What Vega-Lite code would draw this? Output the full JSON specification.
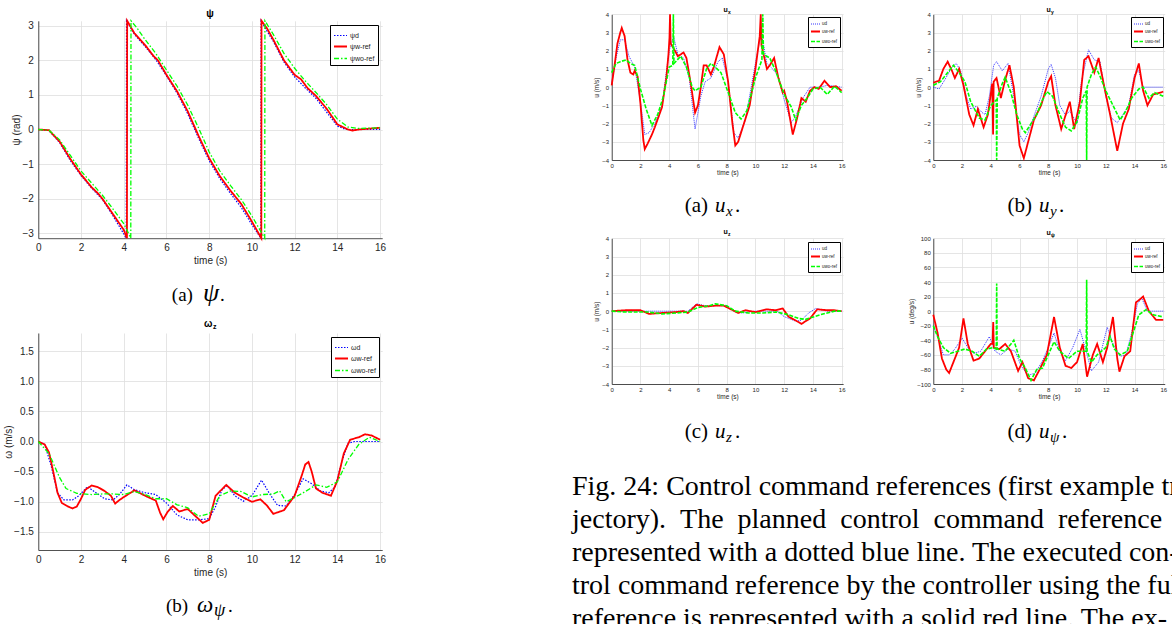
{
"$schema":"https://vega.github.io/schema/vega-lite/v6.json",
"width":1172,"height":624,"autosize":{"type":"none"},"padding":0,"background":"white",
"config":{"view":{"stroke":null},
 "axis":{"domainColor":"#262626","domainWidth":0.8,"labelColor":"#262626","titleColor":"#262626","gridColor":"#dedede","gridWidth":0.8,"labelFont":"Liberation Sans","titleFont":"Liberation Sans","titleFontWeight":"normal","ticks":false,"labelFlush":false,"labelOverlap":false}},
"resolve":{"scale":{"x":"independent","y":"independent","color":"independent","strokeDash":"independent","strokeWidth":"independent"}},
"layer":[
{"layer":[
 {"data":{"values":[
{"s":"ψd","t":0,"v":0},{"s":"ψd","t":0.5,"v":-0.03},{"s":"ψd","t":1,"v":-0.38},{"s":"ψd","t":1.5,"v":-0.9},{"s":"ψd","t":2,"v":-1.33},{"s":"ψd","t":2.5,"v":-1.7},{"s":"ψd","t":3,"v":-2.02},{"s":"ψd","t":3.5,"v":-2.5},{"s":"ψd","t":4.12,"v":-3.1416},{"s":"ψd","t":4.13,"v":3.1416},{"s":"ψd","t":4.5,"v":2.75},{"s":"ψd","t":5,"v":2.4},{"s":"ψd","t":5.5,"v":2.02},{"s":"ψd","t":6,"v":1.55},{"s":"ψd","t":6.5,"v":1.05},{"s":"ψd","t":7,"v":0.45},{"s":"ψd","t":7.5,"v":-0.25},{"s":"ψd","t":8,"v":-0.9},{"s":"ψd","t":8.5,"v":-1.42},{"s":"ψd","t":9,"v":-1.85},{"s":"ψd","t":9.5,"v":-2.25},{"s":"ψd","t":10,"v":-2.75},{"s":"ψd","t":10.42,"v":-3.1416},{"s":"ψd","t":10.43,"v":3.1416},{"s":"ψd","t":10.7,"v":2.85},{"s":"ψd","t":11,"v":2.55},{"s":"ψd","t":11.5,"v":1.95},{"s":"ψd","t":12,"v":1.52},{"s":"ψd","t":12.5,"v":1.2},{"s":"ψd","t":13,"v":0.9},{"s":"ψd","t":13.5,"v":0.5},{"s":"ψd","t":14,"v":0.1},{"s":"ψd","t":14.4,"v":0},{"s":"ψd","t":15,"v":0},{"s":"ψd","t":16,"v":0},
{"s":"ψw-ref","t":0,"v":0},{"s":"ψw-ref","t":0.5,"v":-0.02},{"s":"ψw-ref","t":1,"v":-0.35},{"s":"ψw-ref","t":1.5,"v":-0.85},{"s":"ψw-ref","t":2,"v":-1.3},{"s":"ψw-ref","t":2.5,"v":-1.67},{"s":"ψw-ref","t":2.8,"v":-1.85},{"s":"ψw-ref","t":3,"v":-2.0},{"s":"ψw-ref","t":3.5,"v":-2.45},{"s":"ψw-ref","t":4,"v":-2.9},{"s":"ψw-ref","t":4.15,"v":-3.1416},{"s":"ψw-ref","t":4.16,"v":3.1416},{"s":"ψw-ref","t":4.5,"v":2.78},{"s":"ψw-ref","t":5,"v":2.44},{"s":"ψw-ref","t":5.4,"v":2.12},{"s":"ψw-ref","t":5.6,"v":2.0},{"s":"ψw-ref","t":6,"v":1.58},{"s":"ψw-ref","t":6.5,"v":1.1},{"s":"ψw-ref","t":7,"v":0.52},{"s":"ψw-ref","t":7.5,"v":-0.18},{"s":"ψw-ref","t":8,"v":-0.83},{"s":"ψw-ref","t":8.5,"v":-1.35},{"s":"ψw-ref","t":9,"v":-1.77},{"s":"ψw-ref","t":9.5,"v":-2.15},{"s":"ψw-ref","t":10,"v":-2.66},{"s":"ψw-ref","t":10.44,"v":-3.1416},{"s":"ψw-ref","t":10.45,"v":3.1416},{"s":"ψw-ref","t":10.7,"v":2.93},{"s":"ψw-ref","t":11,"v":2.6},{"s":"ψw-ref","t":11.5,"v":2.0},{"s":"ψw-ref","t":12,"v":1.58},{"s":"ψw-ref","t":12.3,"v":1.45},{"s":"ψw-ref","t":12.6,"v":1.2},{"s":"ψw-ref","t":13,"v":0.97},{"s":"ψw-ref","t":13.5,"v":0.6},{"s":"ψw-ref","t":14,"v":0.15},{"s":"ψw-ref","t":14.5,"v":0},{"s":"ψw-ref","t":14.7,"v":-0.03},{"s":"ψw-ref","t":15,"v":0},{"s":"ψw-ref","t":16,"v":0.05},
{"s":"ψwo-ref","t":0,"v":0},{"s":"ψwo-ref","t":0.5,"v":-0.02},{"s":"ψwo-ref","t":1,"v":-0.3},{"s":"ψwo-ref","t":1.5,"v":-0.75},{"s":"ψwo-ref","t":2,"v":-1.2},{"s":"ψwo-ref","t":2.5,"v":-1.55},{"s":"ψwo-ref","t":3,"v":-1.9},{"s":"ψwo-ref","t":3.5,"v":-2.3},{"s":"ψwo-ref","t":4,"v":-2.72},{"s":"ψwo-ref","t":4.33,"v":-3.1416},{"s":"ψwo-ref","t":4.34,"v":3.1416},{"s":"ψwo-ref","t":4.6,"v":2.95},{"s":"ψwo-ref","t":5,"v":2.6},{"s":"ψwo-ref","t":5.5,"v":2.2},{"s":"ψwo-ref","t":6,"v":1.72},{"s":"ψwo-ref","t":6.5,"v":1.25},{"s":"ψwo-ref","t":7,"v":0.7},{"s":"ψwo-ref","t":7.5,"v":0.05},{"s":"ψwo-ref","t":8,"v":-0.65},{"s":"ψwo-ref","t":8.5,"v":-1.2},{"s":"ψwo-ref","t":9,"v":-1.62},{"s":"ψwo-ref","t":9.5,"v":-2.02},{"s":"ψwo-ref","t":10,"v":-2.5},{"s":"ψwo-ref","t":10.6,"v":-3.1416},{"s":"ψwo-ref","t":10.61,"v":3.1416},{"s":"ψwo-ref","t":11,"v":2.75},{"s":"ψwo-ref","t":11.5,"v":2.2},{"s":"ψwo-ref","t":12,"v":1.77},{"s":"ψwo-ref","t":12.5,"v":1.4},{"s":"ψwo-ref","t":13,"v":1.07},{"s":"ψwo-ref","t":13.5,"v":0.72},{"s":"ψwo-ref","t":14,"v":0.3},{"s":"ψwo-ref","t":14.5,"v":0.07},{"s":"ψwo-ref","t":15,"v":0.03},{"s":"ψwo-ref","t":16,"v":0.05}
 ]},
 "mark":{"type":"line"},
 "encoding":{
  "x":{"field":"t","type":"quantitative","scale":{"domain":[0,16.1],"range":[38.3,382.2],"nice":false,"zero":false},"axis":{"orient":"bottom","offset":-385.8,"values":[0,2,4,6,8,10,12,14,16],"grid":false,"title":"time (s)","labelFontSize":10,"titleFontSize":10,"labelPadding":4,"titlePadding":3}},
  "y":{"field":"v","type":"quantitative","scale":{"domain":[-3.1416,3.1416],"range":[238.2,20.8],"nice":false,"zero":false},"axis":{"orient":"left","offset":-38.3,"values":[-3,-2,-1,0,1,2,3],"grid":true,"title":"ψ (rad)","labelFontSize":10,"titleFontSize":10,"labelPadding":5,"titlePadding":0}},
  "color":{"field":"s","type":"nominal","scale":{"domain":["ψd","ψw-ref","ψwo-ref"],"range":["#0000ff","#ff0000","#00ff00"]},"legend":{"orient":"none","legendX":330,"legendY":25,"direction":"vertical","title":null,"symbolType":"stroke","symbolSize":169,"symbolStrokeWidth":1.3,"labelFontSize":7,"labelOffset":2,"padding":3,"rowPadding":0,"strokeColor":"#000000","fillColor":"#ffffff","labelColor":"#222222"}},
  "strokeDash":{"field":"s","type":"nominal","scale":{"domain":["ψd","ψw-ref","ψwo-ref"],"range":[[1.5,1.5],[1,0],[5,2,1.5,2]]},"legend":{"orient":"none","legendX":330,"legendY":25,"direction":"vertical","title":null,"symbolType":"stroke","symbolSize":169,"symbolStrokeWidth":1.3,"labelFontSize":7,"labelOffset":2,"padding":3,"rowPadding":0,"strokeColor":"#000000","fillColor":"#ffffff","labelColor":"#222222"}},
  "strokeWidth":{"field":"s","type":"nominal","scale":{"type":"ordinal","domain":["ψd","ψw-ref","ψwo-ref"],"range":[1.2,1.8,1.3]},"legend":null}
 }},
 {"data":{"values":[{}]},"mark":{"type":"text","text":"ψ","font":"Liberation Sans","fontSize":10,"fontWeight":"bold","align":"center","baseline":"middle","color":"#000000"},
  "encoding":{"x":{"datum":8.04,"type":"quantitative","axis":{"orient":"top","offset":-20.8,"grid":true,"labels":false,"ticks":false,"domain":false,"title":null,"values":[0,2,4,6,8,10,12,14,16]}},"y":{"datum":3.34,"type":"quantitative","axis":null}}},
 {"data":{"values":[{}]},"mark":{"type":"text","text":"(a)","font":"Liberation Serif","fontSize":19,"align":"right","baseline":"alphabetic","color":"#000000"},
  "encoding":{"x":{"datum":7.24,"type":"quantitative","axis":null},"y":{"datum":-4.957,"type":"quantitative","axis":null}}},
 {"data":{"values":[{}]},"mark":{"type":"text","text":"ψ","font":"Liberation Serif","fontSize":26,"fontStyle":"italic","align":"left","baseline":"alphabetic","dx":10,"color":"#000000"},
  "encoding":{"x":{"datum":7.24,"type":"quantitative","axis":null},"y":{"datum":-4.957,"type":"quantitative","axis":null}}},
 {"data":{"values":[{}]},"mark":{"type":"text","text":".","font":"Liberation Serif","fontSize":19,"align":"left","baseline":"alphabetic","dx":27,"color":"#000000"},
  "encoding":{"x":{"datum":7.24,"type":"quantitative","axis":null},"y":{"datum":-4.957,"type":"quantitative","axis":null}}}
],
"resolve":{"axis":{"x":"independent","y":"independent"}}},

{"layer":[
 {"data":{"values":[
{"s":"ωd","t":0,"v":0},{"s":"ωd","t":0.3,"v":-0.05},{"s":"ωd","t":0.6,"v":-0.4},{"s":"ωd","t":0.9,"v":-0.85},{"s":"ωd","t":1.2,"v":-0.97},{"s":"ωd","t":1.6,"v":-0.97},{"s":"ωd","t":1.9,"v":-0.9},{"s":"ωd","t":2.3,"v":-0.75},{"s":"ωd","t":2.7,"v":-0.85},{"s":"ωd","t":3.1,"v":-0.95},{"s":"ωd","t":3.5,"v":-0.97},{"s":"ωd","t":3.8,"v":-0.88},{"s":"ωd","t":4.15,"v":-0.72},{"s":"ωd","t":4.5,"v":-0.8},{"s":"ωd","t":5,"v":-0.85},{"s":"ωd","t":5.5,"v":-0.88},{"s":"ωd","t":6,"v":-1.02},{"s":"ωd","t":6.5,"v":-1.22},{"s":"ωd","t":7,"v":-1.3},{"s":"ωd","t":7.5,"v":-1.3},{"s":"ωd","t":8,"v":-1.28},{"s":"ωd","t":8.3,"v":-1.08},{"s":"ωd","t":8.6,"v":-0.8},{"s":"ωd","t":8.85,"v":-0.73},{"s":"ωd","t":9.2,"v":-0.9},{"s":"ωd","t":9.6,"v":-0.99},{"s":"ωd","t":10,"v":-0.9},{"s":"ωd","t":10.45,"v":-0.64},{"s":"ωd","t":10.8,"v":-0.85},{"s":"ωd","t":11.2,"v":-1.06},{"s":"ωd","t":11.6,"v":-1.07},{"s":"ωd","t":12,"v":-0.88},{"s":"ωd","t":12.4,"v":-0.62},{"s":"ωd","t":12.8,"v":-0.7},{"s":"ωd","t":13.2,"v":-0.82},{"s":"ωd","t":13.6,"v":-0.85},{"s":"ωd","t":13.9,"v":-0.75},{"s":"ωd","t":14.2,"v":-0.35},{"s":"ωd","t":14.5,"v":-0.03},{"s":"ωd","t":14.8,"v":0},{"s":"ωd","t":16,"v":0},
{"s":"ωw-ref","t":0,"v":0},{"s":"ωw-ref","t":0.3,"v":-0.05},{"s":"ωw-ref","t":0.5,"v":-0.18},{"s":"ωw-ref","t":0.7,"v":-0.5},{"s":"ωw-ref","t":0.9,"v":-0.85},{"s":"ωw-ref","t":1.1,"v":-1.02},{"s":"ωw-ref","t":1.4,"v":-1.08},{"s":"ωw-ref","t":1.6,"v":-1.11},{"s":"ωw-ref","t":1.8,"v":-1.08},{"s":"ωw-ref","t":2.0,"v":-0.95},{"s":"ωw-ref","t":2.2,"v":-0.8},{"s":"ωw-ref","t":2.5,"v":-0.73},{"s":"ωw-ref","t":2.8,"v":-0.76},{"s":"ωw-ref","t":3.1,"v":-0.82},{"s":"ωw-ref","t":3.4,"v":-0.9},{"s":"ωw-ref","t":3.6,"v":-1.03},{"s":"ωw-ref","t":3.8,"v":-0.97},{"s":"ωw-ref","t":4.1,"v":-0.9},{"s":"ωw-ref","t":4.5,"v":-0.81},{"s":"ωw-ref","t":5.0,"v":-0.9},{"s":"ωw-ref","t":5.5,"v":-0.98},{"s":"ωw-ref","t":5.7,"v":-1.18},{"s":"ωw-ref","t":5.85,"v":-1.29},{"s":"ωw-ref","t":6.05,"v":-1.17},{"s":"ωw-ref","t":6.3,"v":-1.07},{"s":"ωw-ref","t":6.6,"v":-1.16},{"s":"ωw-ref","t":7.0,"v":-1.12},{"s":"ωw-ref","t":7.3,"v":-1.22},{"s":"ωw-ref","t":7.7,"v":-1.35},{"s":"ωw-ref","t":8.0,"v":-1.3},{"s":"ωw-ref","t":8.3,"v":-0.9},{"s":"ωw-ref","t":8.8,"v":-0.72},{"s":"ωw-ref","t":9.2,"v":-0.85},{"s":"ωw-ref","t":9.6,"v":-0.93},{"s":"ωw-ref","t":10.0,"v":-1.0},{"s":"ωw-ref","t":10.4,"v":-0.96},{"s":"ωw-ref","t":10.7,"v":-1.06},{"s":"ωw-ref","t":11.0,"v":-1.2},{"s":"ωw-ref","t":11.5,"v":-1.14},{"s":"ωw-ref","t":12.0,"v":-0.9},{"s":"ωw-ref","t":12.3,"v":-0.6},{"s":"ωw-ref","t":12.5,"v":-0.38},{"s":"ωw-ref","t":12.65,"v":-0.34},{"s":"ωw-ref","t":12.8,"v":-0.5},{"s":"ωw-ref","t":13.0,"v":-0.78},{"s":"ωw-ref","t":13.3,"v":-0.85},{"s":"ωw-ref","t":13.7,"v":-0.9},{"s":"ωw-ref","t":14.0,"v":-0.65},{"s":"ωw-ref","t":14.3,"v":-0.2},{"s":"ωw-ref","t":14.6,"v":0.03},{"s":"ωw-ref","t":15.0,"v":0.07},{"s":"ωw-ref","t":15.3,"v":0.12},{"s":"ωw-ref","t":15.6,"v":0.1},{"s":"ωw-ref","t":16,"v":0.03},
{"s":"ωwo-ref","t":0,"v":0},{"s":"ωwo-ref","t":0.5,"v":-0.2},{"s":"ωwo-ref","t":1,"v":-0.6},{"s":"ωwo-ref","t":1.3,"v":-0.78},{"s":"ωwo-ref","t":1.8,"v":-0.86},{"s":"ωwo-ref","t":2.5,"v":-0.88},{"s":"ωwo-ref","t":3,"v":-0.87},{"s":"ωwo-ref","t":3.5,"v":-0.87},{"s":"ωwo-ref","t":4,"v":-0.88},{"s":"ωwo-ref","t":4.5,"v":-0.83},{"s":"ωwo-ref","t":5,"v":-0.88},{"s":"ωwo-ref","t":5.5,"v":-0.95},{"s":"ωwo-ref","t":6,"v":-0.95},{"s":"ωwo-ref","t":6.5,"v":-1.05},{"s":"ωwo-ref","t":7,"v":-1.1},{"s":"ωwo-ref","t":7.5,"v":-1.24},{"s":"ωwo-ref","t":8,"v":-1.2},{"s":"ωwo-ref","t":8.5,"v":-0.9},{"s":"ωwo-ref","t":9,"v":-0.82},{"s":"ωwo-ref","t":9.5,"v":-0.83},{"s":"ωwo-ref","t":10,"v":-0.92},{"s":"ωwo-ref","t":10.5,"v":-0.88},{"s":"ωwo-ref","t":11,"v":-0.87},{"s":"ωwo-ref","t":11.3,"v":-0.82},{"s":"ωwo-ref","t":11.6,"v":-1.0},{"s":"ωwo-ref","t":12,"v":-0.93},{"s":"ωwo-ref","t":12.5,"v":-0.83},{"s":"ωwo-ref","t":13,"v":-0.72},{"s":"ωwo-ref","t":13.5,"v":-0.76},{"s":"ωwo-ref","t":14,"v":-0.67},{"s":"ωwo-ref","t":14.5,"v":-0.3},{"s":"ωwo-ref","t":15,"v":-0.05},{"s":"ωwo-ref","t":15.5,"v":0.07},{"s":"ωwo-ref","t":16,"v":0}
 ]},
 "mark":{"type":"line"},
 "encoding":{
  "x":{"field":"t","type":"quantitative","scale":{"domain":[0,16.1],"range":[38.3,382.2],"nice":false,"zero":false},"axis":{"orient":"bottom","offset":-74,"values":[0,2,4,6,8,10,12,14,16],"grid":false,"title":"time (s)","labelFontSize":10,"titleFontSize":10,"labelPadding":4,"titlePadding":3}},
  "y":{"field":"v","type":"quantitative","scale":{"domain":[-1.8,1.8],"range":[550,333],"nice":false,"zero":false},"axis":{"orient":"left","offset":-38.3,"values":[-1.5,-1,-0.5,0,0.5,1,1.5],"grid":true,"title":"ω (m/s)","labelFontSize":10,"titleFontSize":10,"labelPadding":5,"titlePadding":0}},
  "color":{"field":"s","type":"nominal","scale":{"domain":["ωd","ωw-ref","ωwo-ref"],"range":["#0000ff","#ff0000","#00ff00"]},"legend":{"orient":"none","legendX":331,"legendY":337,"direction":"vertical","title":null,"symbolType":"stroke","symbolSize":169,"symbolStrokeWidth":1.3,"labelFontSize":7,"labelOffset":2,"padding":3,"rowPadding":0,"strokeColor":"#000000","fillColor":"#ffffff","labelColor":"#222222"}},
  "strokeDash":{"field":"s","type":"nominal","scale":{"domain":["ωd","ωw-ref","ωwo-ref"],"range":[[1.5,1.5],[1,0],[5,2,1.5,2]]},"legend":{"orient":"none","legendX":331,"legendY":337,"direction":"vertical","title":null,"symbolType":"stroke","symbolSize":169,"symbolStrokeWidth":1.3,"labelFontSize":7,"labelOffset":2,"padding":3,"rowPadding":0,"strokeColor":"#000000","fillColor":"#ffffff","labelColor":"#222222"}},
  "strokeWidth":{"field":"s","type":"nominal","scale":{"type":"ordinal","domain":["ωd","ωw-ref","ωwo-ref"],"range":[1.2,1.8,1.3]},"legend":null}
 }},
 {"data":{"values":[{}]},"mark":{"type":"text","text":"ω","font":"Liberation Sans","fontSize":10,"fontWeight":"bold","align":"right","baseline":"middle","color":"#000000"},
  "encoding":{"x":{"datum":8.155,"type":"quantitative","axis":{"orient":"top","offset":-333,"grid":true,"labels":false,"ticks":false,"domain":false,"title":null,"values":[0,2,4,6,8,10,12,14,16]}},"y":{"datum":1.949,"type":"quantitative","axis":null}}},
 {"data":{"values":[{}]},"mark":{"type":"text","text":"z","font":"Liberation Sans","fontSize":7,"fontWeight":"bold","align":"left","baseline":"middle","dx":0.5,"dy":3,"color":"#000000"},
  "encoding":{"x":{"datum":8.155,"type":"quantitative","axis":null},"y":{"datum":1.949,"type":"quantitative","axis":null}}},
 {"data":{"values":[{}]},"mark":{"type":"text","text":"(b)","font":"Liberation Serif","fontSize":19,"align":"right","baseline":"alphabetic","color":"#000000"},
  "encoding":{"x":{"datum":7.01,"type":"quantitative","axis":null},"y":{"datum":-2.829,"type":"quantitative","axis":null}}},
 {"data":{"values":[{}]},"mark":{"type":"text","text":"ω","font":"Liberation Serif","fontSize":23,"fontStyle":"italic","align":"left","baseline":"alphabetic","dx":9,"color":"#000000"},
  "encoding":{"x":{"datum":7.01,"type":"quantitative","axis":null},"y":{"datum":-2.829,"type":"quantitative","axis":null}}},
 {"data":{"values":[{}]},"mark":{"type":"text","text":"ψ","font":"Liberation Serif","fontSize":18,"fontStyle":"italic","align":"left","baseline":"alphabetic","dx":26,"dy":4,"color":"#000000"},
  "encoding":{"x":{"datum":7.01,"type":"quantitative","axis":null},"y":{"datum":-2.829,"type":"quantitative","axis":null}}},
 {"data":{"values":[{}]},"mark":{"type":"text","text":".","font":"Liberation Serif","fontSize":19,"align":"left","baseline":"alphabetic","dx":40,"color":"#000000"},
  "encoding":{"x":{"datum":7.01,"type":"quantitative","axis":null},"y":{"datum":-2.829,"type":"quantitative","axis":null}}}
],
"resolve":{"axis":{"x":"independent","y":"independent"}}},

{"layer":[
 {"data":{"values":[
{"s":"ud","t":0,"v":0.2},{"s":"ud","t":0.3,"v":1.6},{"s":"ud","t":0.6,"v":2.6},{"s":"ud","t":0.9,"v":2.6},{"s":"ud","t":1.2,"v":1.7},{"s":"ud","t":1.6,"v":1.1},{"s":"ud","t":2,"v":-0.8},{"s":"ud","t":2.3,"v":-2.6},{"s":"ud","t":2.6,"v":-2.5},{"s":"ud","t":3,"v":-2.0},{"s":"ud","t":3.5,"v":-1.0},{"s":"ud","t":4,"v":2.0},{"s":"ud","t":4.3,"v":2.8},{"s":"ud","t":4.6,"v":1.8},{"s":"ud","t":5,"v":1.6},{"s":"ud","t":5.4,"v":0.5},{"s":"ud","t":5.8,"v":-2.3},{"s":"ud","t":6.2,"v":-0.5},{"s":"ud","t":6.5,"v":0.3},{"s":"ud","t":6.9,"v":0.5},{"s":"ud","t":7.4,"v":1.4},{"s":"ud","t":7.7,"v":1.6},{"s":"ud","t":8.1,"v":0.3},{"s":"ud","t":8.5,"v":-2.5},{"s":"ud","t":8.8,"v":-2.8},{"s":"ud","t":9.3,"v":-1.8},{"s":"ud","t":10,"v":1.3},{"s":"ud","t":10.4,"v":3.0},{"s":"ud","t":10.8,"v":1.3},{"s":"ud","t":11.2,"v":1.0},{"s":"ud","t":11.6,"v":0.6},{"s":"ud","t":12,"v":-0.7},{"s":"ud","t":12.5,"v":-1.95},{"s":"ud","t":12.8,"v":-1.6},{"s":"ud","t":13.3,"v":-0.6},{"s":"ud","t":13.8,"v":0},{"s":"ud","t":14.5,"v":0},{"s":"ud","t":15,"v":0.1},{"s":"ud","t":16,"v":0},
{"s":"uw-ref","t":0,"v":0.1},{"s":"uw-ref","t":0.2,"v":1.2},{"s":"uw-ref","t":0.4,"v":2.4},{"s":"uw-ref","t":0.6,"v":3.0},{"s":"uw-ref","t":0.7,"v":3.25},{"s":"uw-ref","t":0.9,"v":2.8},{"s":"uw-ref","t":1.1,"v":1.5},{"s":"uw-ref","t":1.3,"v":0.8},{"s":"uw-ref","t":1.5,"v":0.7},{"s":"uw-ref","t":1.6,"v":0.9},{"s":"uw-ref","t":1.8,"v":0.6},{"s":"uw-ref","t":2.0,"v":-0.9},{"s":"uw-ref","t":2.2,"v":-2.9},{"s":"uw-ref","t":2.3,"v":-3.4},{"s":"uw-ref","t":2.5,"v":-3.1},{"s":"uw-ref","t":2.8,"v":-2.6},{"s":"uw-ref","t":3,"v":-2.2},{"s":"uw-ref","t":3.5,"v":-1.1},{"s":"uw-ref","t":3.8,"v":0.5},{"s":"uw-ref","t":3.95,"v":1.8},{"s":"uw-ref","t":4.02,"v":2.7},{"s":"uw-ref","t":4.06,"v":4.0},{"s":"uw-ref","t":4.1,"v":2.4},{"s":"uw-ref","t":4.4,"v":2.0},{"s":"uw-ref","t":4.6,"v":1.7},{"s":"uw-ref","t":5.0,"v":1.9},{"s":"uw-ref","t":5.2,"v":1.6},{"s":"uw-ref","t":5.5,"v":0.2},{"s":"uw-ref","t":5.8,"v":-1.4},{"s":"uw-ref","t":6.0,"v":-1.0},{"s":"uw-ref","t":6.2,"v":0},{"s":"uw-ref","t":6.4,"v":1.2},{"s":"uw-ref","t":6.6,"v":1.2},{"s":"uw-ref","t":6.9,"v":0.7},{"s":"uw-ref","t":7.1,"v":1.1},{"s":"uw-ref","t":7.5,"v":2.2},{"s":"uw-ref","t":7.8,"v":1.8},{"s":"uw-ref","t":8.1,"v":0.3},{"s":"uw-ref","t":8.4,"v":-2.0},{"s":"uw-ref","t":8.6,"v":-3.2},{"s":"uw-ref","t":8.8,"v":-3.0},{"s":"uw-ref","t":9.2,"v":-2.0},{"s":"uw-ref","t":9.6,"v":-1.0},{"s":"uw-ref","t":10,"v":1.0},{"s":"uw-ref","t":10.3,"v":2.8},{"s":"uw-ref","t":10.37,"v":4.0},{"s":"uw-ref","t":10.42,"v":2.3},{"s":"uw-ref","t":10.8,"v":1.0},{"s":"uw-ref","t":11,"v":1.2},{"s":"uw-ref","t":11.3,"v":1.6},{"s":"uw-ref","t":11.6,"v":0.5},{"s":"uw-ref","t":11.9,"v":-0.3},{"s":"uw-ref","t":12.0,"v":-0.2},{"s":"uw-ref","t":12.2,"v":-0.8},{"s":"uw-ref","t":12.6,"v":-2.6},{"s":"uw-ref","t":12.9,"v":-1.7},{"s":"uw-ref","t":13.2,"v":-0.6},{"s":"uw-ref","t":13.5,"v":-0.8},{"s":"uw-ref","t":13.8,"v":-0.2},{"s":"uw-ref","t":14.1,"v":0},{"s":"uw-ref","t":14.4,"v":-0.1},{"s":"uw-ref","t":14.8,"v":0.35},{"s":"uw-ref","t":15.2,"v":0},{"s":"uw-ref","t":15.6,"v":0.05},{"s":"uw-ref","t":16,"v":-0.2},
{"s":"uwo-ref","t":0,"v":0.8},{"s":"uwo-ref","t":0.3,"v":1.3},{"s":"uwo-ref","t":0.6,"v":1.4},{"s":"uwo-ref","t":1,"v":1.5},{"s":"uwo-ref","t":1.3,"v":1.3},{"s":"uwo-ref","t":1.6,"v":1.2},{"s":"uwo-ref","t":2,"v":-0.1},{"s":"uwo-ref","t":2.4,"v":-1.2},{"s":"uwo-ref","t":2.8,"v":-2.1},{"s":"uwo-ref","t":3.2,"v":-1.5},{"s":"uwo-ref","t":3.6,"v":-0.5},{"s":"uwo-ref","t":4.0,"v":1.1},{"s":"uwo-ref","t":4.25,"v":1.2},{"s":"uwo-ref","t":4.29,"v":4.0},{"s":"uwo-ref","t":4.33,"v":1.3},{"s":"uwo-ref","t":4.8,"v":1.7},{"s":"uwo-ref","t":5.2,"v":1.1},{"s":"uwo-ref","t":5.6,"v":0},{"s":"uwo-ref","t":5.8,"v":-0.2},{"s":"uwo-ref","t":6.2,"v":0},{"s":"uwo-ref","t":6.6,"v":1.0},{"s":"uwo-ref","t":6.9,"v":1.3},{"s":"uwo-ref","t":7.2,"v":1.1},{"s":"uwo-ref","t":7.6,"v":0.8},{"s":"uwo-ref","t":8.2,"v":-0.5},{"s":"uwo-ref","t":8.6,"v":-1.4},{"s":"uwo-ref","t":9,"v":-1.75},{"s":"uwo-ref","t":9.4,"v":-1.3},{"s":"uwo-ref","t":10,"v":0.5},{"s":"uwo-ref","t":10.45,"v":1.5},{"s":"uwo-ref","t":10.51,"v":4.0},{"s":"uwo-ref","t":10.56,"v":1.8},{"s":"uwo-ref","t":11,"v":1.6},{"s":"uwo-ref","t":11.4,"v":0.9},{"s":"uwo-ref","t":12,"v":-0.4},{"s":"uwo-ref","t":12.5,"v":-1.1},{"s":"uwo-ref","t":12.8,"v":-1.8},{"s":"uwo-ref","t":13.2,"v":-1.0},{"s":"uwo-ref","t":13.6,"v":-0.6},{"s":"uwo-ref","t":14,"v":-0.1},{"s":"uwo-ref","t":14.5,"v":0},{"s":"uwo-ref","t":15,"v":-0.4},{"s":"uwo-ref","t":15.5,"v":0.05},{"s":"uwo-ref","t":16,"v":-0.3}
 ]},
 "mark":{"type":"line"},
 "encoding":{
  "x":{"field":"t","type":"quantitative","scale":{"domain":[0,16.1],"range":[611.7,843.1],"nice":false,"zero":false},"axis":{"orient":"bottom","offset":-464,"values":[0,2,4,6,8,10,12,14,16],"grid":false,"title":"time (s)","labelFontSize":6,"titleFontSize":6.5,"labelPadding":2,"titlePadding":1}},
  "y":{"field":"v","type":"quantitative","scale":{"domain":[-4,4],"range":[160,14.3],"nice":false,"zero":false},"axis":{"orient":"left","offset":-611.7,"values":[-4,-3,-2,-1,0,1,2,3,4],"grid":true,"title":"u (m/s)","labelFontSize":6,"titleFontSize":6.5,"labelPadding":3,"titlePadding":2}},
  "color":{"field":"s","type":"nominal","scale":{"domain":["ud","uw-ref","uwo-ref"],"range":["#0000ff","#ff0000","#00ff00"]},"legend":{"orient":"none","legendX":808,"legendY":17,"direction":"vertical","title":null,"symbolType":"stroke","symbolSize":81,"symbolStrokeWidth":1,"labelFontSize":4.5,"labelOffset":1,"padding":2,"rowPadding":0,"strokeColor":"#000000","fillColor":"#ffffff","labelColor":"#222222"}},
  "strokeDash":{"field":"s","type":"nominal","scale":{"domain":["ud","uw-ref","uwo-ref"],"range":[[1,1],[1,0],[4,1.5]]},"legend":{"orient":"none","legendX":808,"legendY":17,"direction":"vertical","title":null,"symbolType":"stroke","symbolSize":81,"symbolStrokeWidth":1,"labelFontSize":4.5,"labelOffset":1,"padding":2,"rowPadding":0,"strokeColor":"#000000","fillColor":"#ffffff","labelColor":"#222222"}},
  "strokeWidth":{"field":"s","type":"nominal","scale":{"type":"ordinal","domain":["ud","uw-ref","uwo-ref"],"range":[0.8,1.8,1.6]},"legend":null}
 }},
 {"data":{"values":[{}]},"mark":{"type":"text","text":"u","font":"Liberation Sans","fontSize":7,"fontWeight":"bold","align":"right","baseline":"middle","color":"#000000"},
  "encoding":{"x":{"datum":8.07,"type":"quantitative","axis":{"orient":"top","offset":-14.3,"grid":true,"labels":false,"ticks":false,"domain":false,"title":null,"values":[0,2,4,6,8,10,12,14,16]}},"y":{"datum":4.237,"type":"quantitative","axis":null}}},
 {"data":{"values":[{}]},"mark":{"type":"text","text":"x","font":"Liberation Sans","fontSize":5,"fontWeight":"bold","align":"left","baseline":"middle","dx":0.3,"dy":2,"color":"#000000"},
  "encoding":{"x":{"datum":8.07,"type":"quantitative","axis":null},"y":{"datum":4.237,"type":"quantitative","axis":null}}},
 {"data":{"values":[{}]},"mark":{"type":"text","text":"(a)","font":"Liberation Serif","fontSize":21,"align":"right","baseline":"alphabetic","color":"#000000"},
  "encoding":{"x":{"datum":6.7,"type":"quantitative","axis":null},"y":{"datum":-6.856,"type":"quantitative","axis":null}}},
 {"data":{"values":[{}]},"mark":{"type":"text","text":"u","font":"Liberation Serif","fontSize":21,"fontStyle":"italic","align":"left","baseline":"alphabetic","dx":7,"color":"#000000"},
  "encoding":{"x":{"datum":6.7,"type":"quantitative","axis":null},"y":{"datum":-6.856,"type":"quantitative","axis":null}}},
 {"data":{"values":[{}]},"mark":{"type":"text","text":"x","font":"Liberation Serif","fontSize":15,"fontStyle":"italic","align":"left","baseline":"alphabetic","dx":18,"dy":4,"color":"#000000"},
  "encoding":{"x":{"datum":6.7,"type":"quantitative","axis":null},"y":{"datum":-6.856,"type":"quantitative","axis":null}}},
 {"data":{"values":[{}]},"mark":{"type":"text","text":".","font":"Liberation Serif","fontSize":21,"align":"left","baseline":"alphabetic","dx":27,"color":"#000000"},
  "encoding":{"x":{"datum":6.7,"type":"quantitative","axis":null},"y":{"datum":-6.856,"type":"quantitative","axis":null}}}
],
"resolve":{"axis":{"x":"independent","y":"independent"}}},

{"layer":[
 {"data":{"values":[
{"s":"ud","t":0,"v":0},{"s":"ud","t":0.4,"v":-0.1},{"s":"ud","t":0.8,"v":0.4},{"s":"ud","t":1.3,"v":1.1},{"s":"ud","t":1.6,"v":1.3},{"s":"ud","t":1.9,"v":0.9},{"s":"ud","t":2.3,"v":-0.5},{"s":"ud","t":2.6,"v":-1.2},{"s":"ud","t":3,"v":-1.05},{"s":"ud","t":3.4,"v":-1.4},{"s":"ud","t":3.6,"v":-1.5},{"s":"ud","t":3.9,"v":-0.5},{"s":"ud","t":4.2,"v":1.2},{"s":"ud","t":4.4,"v":1.4},{"s":"ud","t":4.8,"v":0.9},{"s":"ud","t":5.2,"v":1.3},{"s":"ud","t":5.6,"v":-0.5},{"s":"ud","t":6.0,"v":-2.6},{"s":"ud","t":6.3,"v":-3.0},{"s":"ud","t":6.6,"v":-2.5},{"s":"ud","t":7,"v":-1.6},{"s":"ud","t":7.5,"v":-0.5},{"s":"ud","t":8,"v":1.0},{"s":"ud","t":8.2,"v":1.25},{"s":"ud","t":8.5,"v":0.5},{"s":"ud","t":8.8,"v":-1.0},{"s":"ud","t":9.2,"v":-1.55},{"s":"ud","t":9.5,"v":-1.3},{"s":"ud","t":10,"v":-2.0},{"s":"ud","t":10.3,"v":0.3},{"s":"ud","t":10.8,"v":2.05},{"s":"ud","t":11.2,"v":1.5},{"s":"ud","t":11.6,"v":1.4},{"s":"ud","t":12,"v":-0.5},{"s":"ud","t":12.4,"v":-1.7},{"s":"ud","t":12.8,"v":-1.95},{"s":"ud","t":13.2,"v":-1.5},{"s":"ud","t":13.6,"v":-1.0},{"s":"ud","t":14,"v":0.7},{"s":"ud","t":14.3,"v":0.9},{"s":"ud","t":14.6,"v":0},{"s":"ud","t":15,"v":0},{"s":"ud","t":16,"v":0},
{"s":"uw-ref","t":0,"v":0.25},{"s":"uw-ref","t":0.4,"v":0.35},{"s":"uw-ref","t":0.7,"v":1.0},{"s":"uw-ref","t":1.0,"v":1.4},{"s":"uw-ref","t":1.3,"v":0.9},{"s":"uw-ref","t":1.5,"v":0.5},{"s":"uw-ref","t":1.8,"v":1.0},{"s":"uw-ref","t":2.1,"v":0.1},{"s":"uw-ref","t":2.5,"v":-1.5},{"s":"uw-ref","t":2.8,"v":-2.1},{"s":"uw-ref","t":3.1,"v":-1.2},{"s":"uw-ref","t":3.5,"v":-2.2},{"s":"uw-ref","t":3.8,"v":-1.5},{"s":"uw-ref","t":4.1,"v":0.2},{"s":"uw-ref","t":4.16,"v":-2.6},{"s":"uw-ref","t":4.2,"v":0.3},{"s":"uw-ref","t":4.4,"v":0.5},{"s":"uw-ref","t":4.7,"v":-0.6},{"s":"uw-ref","t":5.0,"v":0.4},{"s":"uw-ref","t":5.3,"v":1.2},{"s":"uw-ref","t":5.6,"v":0},{"s":"uw-ref","t":6.0,"v":-3.2},{"s":"uw-ref","t":6.3,"v":-3.9},{"s":"uw-ref","t":6.6,"v":-3.0},{"s":"uw-ref","t":7,"v":-1.8},{"s":"uw-ref","t":7.5,"v":-1.0},{"s":"uw-ref","t":8,"v":0.3},{"s":"uw-ref","t":8.2,"v":0.6},{"s":"uw-ref","t":8.5,"v":-1.0},{"s":"uw-ref","t":8.9,"v":-2.3},{"s":"uw-ref","t":9.3,"v":-1.3},{"s":"uw-ref","t":9.5,"v":-0.8},{"s":"uw-ref","t":9.8,"v":-2.3},{"s":"uw-ref","t":10.2,"v":-0.8},{"s":"uw-ref","t":10.5,"v":1.5},{"s":"uw-ref","t":10.8,"v":1.7},{"s":"uw-ref","t":11.2,"v":0.8},{"s":"uw-ref","t":11.5,"v":1.6},{"s":"uw-ref","t":11.9,"v":0},{"s":"uw-ref","t":12.3,"v":-1.5},{"s":"uw-ref","t":12.8,"v":-3.5},{"s":"uw-ref","t":13.2,"v":-2.0},{"s":"uw-ref","t":13.6,"v":-1.2},{"s":"uw-ref","t":14,"v":0.5},{"s":"uw-ref","t":14.3,"v":1.3},{"s":"uw-ref","t":14.6,"v":-0.2},{"s":"uw-ref","t":14.9,"v":-1.0},{"s":"uw-ref","t":15.3,"v":-0.4},{"s":"uw-ref","t":16,"v":-0.25},
{"s":"uwo-ref","t":0,"v":0.1},{"s":"uwo-ref","t":0.5,"v":0.3},{"s":"uwo-ref","t":1.0,"v":0.8},{"s":"uwo-ref","t":1.4,"v":1.2},{"s":"uwo-ref","t":1.8,"v":0.8},{"s":"uwo-ref","t":2.2,"v":0.3},{"s":"uwo-ref","t":2.6,"v":-0.8},{"s":"uwo-ref","t":3.2,"v":-1.7},{"s":"uwo-ref","t":3.6,"v":-1.8},{"s":"uwo-ref","t":4.0,"v":-1.0},{"s":"uwo-ref","t":4.38,"v":-0.7},{"s":"uwo-ref","t":4.41,"v":-4.0},{"s":"uwo-ref","t":4.45,"v":-0.6},{"s":"uwo-ref","t":4.8,"v":0.2},{"s":"uwo-ref","t":5.0,"v":0.55},{"s":"uwo-ref","t":5.4,"v":-0.3},{"s":"uwo-ref","t":5.8,"v":-1.5},{"s":"uwo-ref","t":6.2,"v":-2.3},{"s":"uwo-ref","t":6.4,"v":-2.5},{"s":"uwo-ref","t":6.8,"v":-2.0},{"s":"uwo-ref","t":7.2,"v":-1.5},{"s":"uwo-ref","t":7.6,"v":-0.7},{"s":"uwo-ref","t":7.9,"v":-0.25},{"s":"uwo-ref","t":8.3,"v":-0.5},{"s":"uwo-ref","t":8.8,"v":-1.5},{"s":"uwo-ref","t":9.2,"v":-2.2},{"s":"uwo-ref","t":9.6,"v":-2.4},{"s":"uwo-ref","t":10.0,"v":-1.9},{"s":"uwo-ref","t":10.4,"v":-0.6},{"s":"uwo-ref","t":10.64,"v":-0.2},{"s":"uwo-ref","t":10.67,"v":-4.0},{"s":"uwo-ref","t":10.7,"v":0},{"s":"uwo-ref","t":11.0,"v":0.7},{"s":"uwo-ref","t":11.3,"v":1.1},{"s":"uwo-ref","t":11.6,"v":0.6},{"s":"uwo-ref","t":12,"v":-0.2},{"s":"uwo-ref","t":12.5,"v":-1.0},{"s":"uwo-ref","t":13,"v":-1.8},{"s":"uwo-ref","t":13.4,"v":-1.3},{"s":"uwo-ref","t":13.8,"v":-0.6},{"s":"uwo-ref","t":14.3,"v":-0.1},{"s":"uwo-ref","t":14.6,"v":0},{"s":"uwo-ref","t":15,"v":-0.6},{"s":"uwo-ref","t":15.4,"v":-0.3},{"s":"uwo-ref","t":16,"v":-0.5}
 ]},
 "mark":{"type":"line"},
 "encoding":{
  "x":{"field":"t","type":"quantitative","scale":{"domain":[0,16.1],"range":[933.3,1164.7],"nice":false,"zero":false},"axis":{"orient":"bottom","offset":-464,"values":[0,2,4,6,8,10,12,14,16],"grid":false,"title":"time (s)","labelFontSize":6,"titleFontSize":6.5,"labelPadding":2,"titlePadding":1}},
  "y":{"field":"v","type":"quantitative","scale":{"domain":[-4,4],"range":[160,14.3],"nice":false,"zero":false},"axis":{"orient":"left","offset":-933.3,"values":[-4,-3,-2,-1,0,1,2,3,4],"grid":true,"title":"u (m/s)","labelFontSize":6,"titleFontSize":6.5,"labelPadding":3,"titlePadding":2}},
  "color":{"field":"s","type":"nominal","scale":{"domain":["ud","uw-ref","uwo-ref"],"range":["#0000ff","#ff0000","#00ff00"]},"legend":{"orient":"none","legendX":1131,"legendY":17,"direction":"vertical","title":null,"symbolType":"stroke","symbolSize":81,"symbolStrokeWidth":1,"labelFontSize":4.5,"labelOffset":1,"padding":2,"rowPadding":0,"strokeColor":"#000000","fillColor":"#ffffff","labelColor":"#222222"}},
  "strokeDash":{"field":"s","type":"nominal","scale":{"domain":["ud","uw-ref","uwo-ref"],"range":[[1,1],[1,0],[4,1.5]]},"legend":{"orient":"none","legendX":1131,"legendY":17,"direction":"vertical","title":null,"symbolType":"stroke","symbolSize":81,"symbolStrokeWidth":1,"labelFontSize":4.5,"labelOffset":1,"padding":2,"rowPadding":0,"strokeColor":"#000000","fillColor":"#ffffff","labelColor":"#222222"}},
  "strokeWidth":{"field":"s","type":"nominal","scale":{"type":"ordinal","domain":["ud","uw-ref","uwo-ref"],"range":[0.8,1.8,1.6]},"legend":null}
 }},
 {"data":{"values":[{}]},"mark":{"type":"text","text":"u","font":"Liberation Sans","fontSize":7,"fontWeight":"bold","align":"right","baseline":"middle","color":"#000000"},
  "encoding":{"x":{"datum":8.17,"type":"quantitative","axis":{"orient":"top","offset":-14.3,"grid":true,"labels":false,"ticks":false,"domain":false,"title":null,"values":[0,2,4,6,8,10,12,14,16]}},"y":{"datum":4.237,"type":"quantitative","axis":null}}},
 {"data":{"values":[{}]},"mark":{"type":"text","text":"y","font":"Liberation Sans","fontSize":5,"fontWeight":"bold","align":"left","baseline":"middle","dx":0.3,"dy":2,"color":"#000000"},
  "encoding":{"x":{"datum":8.17,"type":"quantitative","axis":null},"y":{"datum":4.237,"type":"quantitative","axis":null}}},
 {"data":{"values":[{}]},"mark":{"type":"text","text":"(b)","font":"Liberation Serif","fontSize":21,"align":"right","baseline":"alphabetic","color":"#000000"},
  "encoding":{"x":{"datum":6.87,"type":"quantitative","axis":null},"y":{"datum":-6.856,"type":"quantitative","axis":null}}},
 {"data":{"values":[{}]},"mark":{"type":"text","text":"u","font":"Liberation Serif","fontSize":21,"fontStyle":"italic","align":"left","baseline":"alphabetic","dx":7,"color":"#000000"},
  "encoding":{"x":{"datum":6.87,"type":"quantitative","axis":null},"y":{"datum":-6.856,"type":"quantitative","axis":null}}},
 {"data":{"values":[{}]},"mark":{"type":"text","text":"y","font":"Liberation Serif","fontSize":15,"fontStyle":"italic","align":"left","baseline":"alphabetic","dx":18,"dy":4,"color":"#000000"},
  "encoding":{"x":{"datum":6.87,"type":"quantitative","axis":null},"y":{"datum":-6.856,"type":"quantitative","axis":null}}},
 {"data":{"values":[{}]},"mark":{"type":"text","text":".","font":"Liberation Serif","fontSize":21,"align":"left","baseline":"alphabetic","dx":27,"color":"#000000"},
  "encoding":{"x":{"datum":6.87,"type":"quantitative","axis":null},"y":{"datum":-6.856,"type":"quantitative","axis":null}}}
],
"resolve":{"axis":{"x":"independent","y":"independent"}}},

{"layer":[
 {"data":{"values":[
{"s":"ud","t":0,"v":0},{"s":"ud","t":5.3,"v":0},{"s":"ud","t":5.9,"v":0.4},{"s":"ud","t":6.5,"v":0.3},{"s":"ud","t":8,"v":0.3},{"s":"ud","t":8.5,"v":0},{"s":"ud","t":9,"v":-0.1},{"s":"ud","t":10,"v":0},{"s":"ud","t":11.5,"v":0},{"s":"ud","t":12,"v":-0.3},{"s":"ud","t":12.8,"v":-0.55},{"s":"ud","t":13.2,"v":-0.5},{"s":"ud","t":13.7,"v":-0.1},{"s":"ud","t":14.2,"v":0.15},{"s":"ud","t":15,"v":0},{"s":"ud","t":16,"v":0},
{"s":"uw-ref","t":0,"v":0},{"s":"uw-ref","t":1,"v":0.05},{"s":"uw-ref","t":2,"v":0.05},{"s":"uw-ref","t":2.6,"v":-0.15},{"s":"uw-ref","t":3.5,"v":-0.1},{"s":"uw-ref","t":4.5,"v":-0.05},{"s":"uw-ref","t":5,"v":0},{"s":"uw-ref","t":5.3,"v":-0.1},{"s":"uw-ref","t":5.9,"v":0.35},{"s":"uw-ref","t":6.5,"v":0.25},{"s":"uw-ref","t":7.2,"v":0.3},{"s":"uw-ref","t":7.8,"v":0.3},{"s":"uw-ref","t":8.8,"v":-0.1},{"s":"uw-ref","t":9.3,"v":0.05},{"s":"uw-ref","t":10,"v":-0.05},{"s":"uw-ref","t":10.8,"v":0.1},{"s":"uw-ref","t":11.4,"v":0.05},{"s":"uw-ref","t":11.9,"v":0.15},{"s":"uw-ref","t":12.3,"v":-0.3},{"s":"uw-ref","t":13,"v":-0.6},{"s":"uw-ref","t":13.2,"v":-0.7},{"s":"uw-ref","t":13.8,"v":-0.4},{"s":"uw-ref","t":14.3,"v":0.1},{"s":"uw-ref","t":15,"v":0.05},{"s":"uw-ref","t":15.5,"v":0.05},{"s":"uw-ref","t":16,"v":0},
{"s":"uwo-ref","t":0,"v":0},{"s":"uwo-ref","t":1,"v":-0.05},{"s":"uwo-ref","t":2.5,"v":-0.05},{"s":"uwo-ref","t":3.5,"v":-0.15},{"s":"uwo-ref","t":4.5,"v":-0.1},{"s":"uwo-ref","t":5.3,"v":-0.05},{"s":"uwo-ref","t":6,"v":0.2},{"s":"uwo-ref","t":6.8,"v":0.3},{"s":"uwo-ref","t":7.2,"v":0.4},{"s":"uwo-ref","t":8,"v":0.3},{"s":"uwo-ref","t":8.6,"v":0},{"s":"uwo-ref","t":9.5,"v":-0.1},{"s":"uwo-ref","t":10.5,"v":-0.1},{"s":"uwo-ref","t":11.5,"v":-0.05},{"s":"uwo-ref","t":12.3,"v":-0.2},{"s":"uwo-ref","t":13,"v":-0.4},{"s":"uwo-ref","t":13.5,"v":-0.45},{"s":"uwo-ref","t":14.5,"v":-0.2},{"s":"uwo-ref","t":15.5,"v":0},{"s":"uwo-ref","t":16,"v":0}
 ]},
 "mark":{"type":"line"},
 "encoding":{
  "x":{"field":"t","type":"quantitative","scale":{"domain":[0,16.1],"range":[611.7,843.1],"nice":false,"zero":false},"axis":{"orient":"bottom","offset":-240,"values":[0,2,4,6,8,10,12,14,16],"grid":false,"title":"time (s)","labelFontSize":6,"titleFontSize":6.5,"labelPadding":2,"titlePadding":1}},
  "y":{"field":"v","type":"quantitative","scale":{"domain":[-4,4],"range":[384,238.3],"nice":false,"zero":false},"axis":{"orient":"left","offset":-611.7,"values":[-4,-3,-2,-1,0,1,2,3,4],"grid":true,"title":"u (m/s)","labelFontSize":6,"titleFontSize":6.5,"labelPadding":3,"titlePadding":2}},
  "color":{"field":"s","type":"nominal","scale":{"domain":["ud","uw-ref","uwo-ref"],"range":["#0000ff","#ff0000","#00ff00"]},"legend":{"orient":"none","legendX":808,"legendY":242,"direction":"vertical","title":null,"symbolType":"stroke","symbolSize":81,"symbolStrokeWidth":1,"labelFontSize":4.5,"labelOffset":1,"padding":2,"rowPadding":0,"strokeColor":"#000000","fillColor":"#ffffff","labelColor":"#222222"}},
  "strokeDash":{"field":"s","type":"nominal","scale":{"domain":["ud","uw-ref","uwo-ref"],"range":[[1,1],[1,0],[4,1.5]]},"legend":{"orient":"none","legendX":808,"legendY":242,"direction":"vertical","title":null,"symbolType":"stroke","symbolSize":81,"symbolStrokeWidth":1,"labelFontSize":4.5,"labelOffset":1,"padding":2,"rowPadding":0,"strokeColor":"#000000","fillColor":"#ffffff","labelColor":"#222222"}},
  "strokeWidth":{"field":"s","type":"nominal","scale":{"type":"ordinal","domain":["ud","uw-ref","uwo-ref"],"range":[0.8,1.8,1.6]},"legend":null}
 }},
 {"data":{"values":[{}]},"mark":{"type":"text","text":"u","font":"Liberation Sans","fontSize":7,"fontWeight":"bold","align":"right","baseline":"middle","color":"#000000"},
  "encoding":{"x":{"datum":8.07,"type":"quantitative","axis":{"orient":"top","offset":-238.3,"grid":true,"labels":false,"ticks":false,"domain":false,"title":null,"values":[0,2,4,6,8,10,12,14,16]}},"y":{"datum":4.346,"type":"quantitative","axis":null}}},
 {"data":{"values":[{}]},"mark":{"type":"text","text":"z","font":"Liberation Sans","fontSize":5,"fontWeight":"bold","align":"left","baseline":"middle","dx":0.3,"dy":2,"color":"#000000"},
  "encoding":{"x":{"datum":8.07,"type":"quantitative","axis":null},"y":{"datum":4.346,"type":"quantitative","axis":null}}},
 {"data":{"values":[{}]},"mark":{"type":"text","text":"(c)","font":"Liberation Serif","fontSize":21,"align":"right","baseline":"alphabetic","color":"#000000"},
  "encoding":{"x":{"datum":6.7,"type":"quantitative","axis":null},"y":{"datum":-6.966,"type":"quantitative","axis":null}}},
 {"data":{"values":[{}]},"mark":{"type":"text","text":"u","font":"Liberation Serif","fontSize":21,"fontStyle":"italic","align":"left","baseline":"alphabetic","dx":7,"color":"#000000"},
  "encoding":{"x":{"datum":6.7,"type":"quantitative","axis":null},"y":{"datum":-6.966,"type":"quantitative","axis":null}}},
 {"data":{"values":[{}]},"mark":{"type":"text","text":"z","font":"Liberation Serif","fontSize":15,"fontStyle":"italic","align":"left","baseline":"alphabetic","dx":18,"dy":4,"color":"#000000"},
  "encoding":{"x":{"datum":6.7,"type":"quantitative","axis":null},"y":{"datum":-6.966,"type":"quantitative","axis":null}}},
 {"data":{"values":[{}]},"mark":{"type":"text","text":".","font":"Liberation Serif","fontSize":21,"align":"left","baseline":"alphabetic","dx":27,"color":"#000000"},
  "encoding":{"x":{"datum":6.7,"type":"quantitative","axis":null},"y":{"datum":-6.966,"type":"quantitative","axis":null}}}
],
"resolve":{"axis":{"x":"independent","y":"independent"}}},

{"layer":[
 {"data":{"values":[
{"s":"ud","t":0,"v":-20},{"s":"ud","t":0.3,"v":-35},{"s":"ud","t":0.7,"v":-60},{"s":"ud","t":1.1,"v":-60},{"s":"ud","t":1.5,"v":-52},{"s":"ud","t":2.0,"v":-37},{"s":"ud","t":2.4,"v":-50},{"s":"ud","t":2.8,"v":-58},{"s":"ud","t":3.3,"v":-55},{"s":"ud","t":3.9,"v":-35},{"s":"ud","t":4.3,"v":-55},{"s":"ud","t":4.7,"v":-60},{"s":"ud","t":5.2,"v":-52},{"s":"ud","t":5.7,"v":-55},{"s":"ud","t":6.1,"v":-75},{"s":"ud","t":6.6,"v":-88},{"s":"ud","t":7.1,"v":-85},{"s":"ud","t":7.6,"v":-68},{"s":"ud","t":8.0,"v":-50},{"s":"ud","t":8.4,"v":-30},{"s":"ud","t":8.8,"v":-55},{"s":"ud","t":9.2,"v":-68},{"s":"ud","t":9.7,"v":-50},{"s":"ud","t":10.2,"v":-25},{"s":"ud","t":10.7,"v":-60},{"s":"ud","t":11,"v":-82},{"s":"ud","t":11.5,"v":-70},{"s":"ud","t":12.1,"v":-22},{"s":"ud","t":12.5,"v":-45},{"s":"ud","t":13,"v":-62},{"s":"ud","t":13.4,"v":-60},{"s":"ud","t":13.8,"v":-30},{"s":"ud","t":14.2,"v":10},{"s":"ud","t":14.5,"v":18},{"s":"ud","t":14.9,"v":0},{"s":"ud","t":16,"v":0},
{"s":"uw-ref","t":0,"v":-5},{"s":"uw-ref","t":0.3,"v":-30},{"s":"uw-ref","t":0.6,"v":-65},{"s":"uw-ref","t":0.9,"v":-80},{"s":"uw-ref","t":1.1,"v":-85},{"s":"uw-ref","t":1.5,"v":-65},{"s":"uw-ref","t":1.8,"v":-50},{"s":"uw-ref","t":2.1,"v":-10},{"s":"uw-ref","t":2.4,"v":-45},{"s":"uw-ref","t":2.8,"v":-68},{"s":"uw-ref","t":3.2,"v":-65},{"s":"uw-ref","t":3.6,"v":-55},{"s":"uw-ref","t":4.0,"v":-45},{"s":"uw-ref","t":4.12,"v":-45},{"s":"uw-ref","t":4.17,"v":-15},{"s":"uw-ref","t":4.21,"v":-50},{"s":"uw-ref","t":4.6,"v":-52},{"s":"uw-ref","t":5.0,"v":-45},{"s":"uw-ref","t":5.4,"v":-55},{"s":"uw-ref","t":5.9,"v":-82},{"s":"uw-ref","t":6.2,"v":-70},{"s":"uw-ref","t":6.6,"v":-92},{"s":"uw-ref","t":7.0,"v":-95},{"s":"uw-ref","t":7.4,"v":-80},{"s":"uw-ref","t":7.9,"v":-60},{"s":"uw-ref","t":8.4,"v":-8},{"s":"uw-ref","t":8.8,"v":-50},{"s":"uw-ref","t":9.2,"v":-75},{"s":"uw-ref","t":9.6,"v":-78},{"s":"uw-ref","t":10.0,"v":-70},{"s":"uw-ref","t":10.4,"v":-45},{"s":"uw-ref","t":10.7,"v":-90},{"s":"uw-ref","t":11.1,"v":-60},{"s":"uw-ref","t":11.4,"v":-45},{"s":"uw-ref","t":11.8,"v":-70},{"s":"uw-ref","t":12.1,"v":-50},{"s":"uw-ref","t":12.5,"v":-8},{"s":"uw-ref","t":12.8,"v":-65},{"s":"uw-ref","t":12.95,"v":-83},{"s":"uw-ref","t":13.3,"v":-62},{"s":"uw-ref","t":13.7,"v":-55},{"s":"uw-ref","t":14.1,"v":12},{"s":"uw-ref","t":14.3,"v":15},{"s":"uw-ref","t":14.6,"v":20},{"s":"uw-ref","t":15,"v":0},{"s":"uw-ref","t":15.5,"v":-12},{"s":"uw-ref","t":16,"v":-12},
{"s":"uwo-ref","t":0,"v":-20},{"s":"uwo-ref","t":0.3,"v":-35},{"s":"uwo-ref","t":0.7,"v":-50},{"s":"uwo-ref","t":1.2,"v":-58},{"s":"uwo-ref","t":1.7,"v":-55},{"s":"uwo-ref","t":2.2,"v":-52},{"s":"uwo-ref","t":2.7,"v":-55},{"s":"uwo-ref","t":3.2,"v":-62},{"s":"uwo-ref","t":3.7,"v":-52},{"s":"uwo-ref","t":4.2,"v":-50},{"s":"uwo-ref","t":4.38,"v":-52},{"s":"uwo-ref","t":4.41,"v":38},{"s":"uwo-ref","t":4.44,"v":-52},{"s":"uwo-ref","t":5.0,"v":-55},{"s":"uwo-ref","t":5.6,"v":-40},{"s":"uwo-ref","t":6.0,"v":-65},{"s":"uwo-ref","t":6.4,"v":-78},{"s":"uwo-ref","t":6.8,"v":-95},{"s":"uwo-ref","t":7.2,"v":-80},{"s":"uwo-ref","t":7.6,"v":-78},{"s":"uwo-ref","t":8.0,"v":-60},{"s":"uwo-ref","t":8.4,"v":-42},{"s":"uwo-ref","t":8.8,"v":-55},{"s":"uwo-ref","t":9.4,"v":-65},{"s":"uwo-ref","t":10,"v":-55},{"s":"uwo-ref","t":10.64,"v":-55},{"s":"uwo-ref","t":10.67,"v":43},{"s":"uwo-ref","t":10.7,"v":-55},{"s":"uwo-ref","t":11,"v":-70},{"s":"uwo-ref","t":11.4,"v":-60},{"s":"uwo-ref","t":12,"v":-50},{"s":"uwo-ref","t":12.3,"v":-35},{"s":"uwo-ref","t":12.6,"v":-52},{"s":"uwo-ref","t":13,"v":-60},{"s":"uwo-ref","t":13.5,"v":-55},{"s":"uwo-ref","t":13.9,"v":-30},{"s":"uwo-ref","t":14.3,"v":-5},{"s":"uwo-ref","t":14.8,"v":2},{"s":"uwo-ref","t":15.3,"v":-5},{"s":"uwo-ref","t":16,"v":-8}
 ]},
 "mark":{"type":"line"},
 "encoding":{
  "x":{"field":"t","type":"quantitative","scale":{"domain":[0,16.1],"range":[933.3,1164.7],"nice":false,"zero":false},"axis":{"orient":"bottom","offset":-240,"values":[0,2,4,6,8,10,12,14,16],"grid":false,"title":"time (s)","labelFontSize":6,"titleFontSize":6.5,"labelPadding":2,"titlePadding":1}},
  "y":{"field":"v","type":"quantitative","scale":{"domain":[-100,100],"range":[384,238.3],"nice":false,"zero":false},"axis":{"orient":"left","offset":-933.3,"values":[-100,-80,-60,-40,-20,0,20,40,60,80,100],"grid":true,"title":"u (deg/s)","labelFontSize":6,"titleFontSize":6.5,"labelPadding":3,"titlePadding":2}},
  "color":{"field":"s","type":"nominal","scale":{"domain":["ud","uw-ref","uwo-ref"],"range":["#0000ff","#ff0000","#00ff00"]},"legend":{"orient":"none","legendX":1131,"legendY":242,"direction":"vertical","title":null,"symbolType":"stroke","symbolSize":81,"symbolStrokeWidth":1,"labelFontSize":4.5,"labelOffset":1,"padding":2,"rowPadding":0,"strokeColor":"#000000","fillColor":"#ffffff","labelColor":"#222222"}},
  "strokeDash":{"field":"s","type":"nominal","scale":{"domain":["ud","uw-ref","uwo-ref"],"range":[[1,1],[1,0],[4,1.5]]},"legend":{"orient":"none","legendX":1131,"legendY":242,"direction":"vertical","title":null,"symbolType":"stroke","symbolSize":81,"symbolStrokeWidth":1,"labelFontSize":4.5,"labelOffset":1,"padding":2,"rowPadding":0,"strokeColor":"#000000","fillColor":"#ffffff","labelColor":"#222222"}},
  "strokeWidth":{"field":"s","type":"nominal","scale":{"type":"ordinal","domain":["ud","uw-ref","uwo-ref"],"range":[0.8,1.8,1.6]},"legend":null}
 }},
 {"data":{"values":[{}]},"mark":{"type":"text","text":"u","font":"Liberation Sans","fontSize":7,"fontWeight":"bold","align":"right","baseline":"middle","color":"#000000"},
  "encoding":{"x":{"datum":8.17,"type":"quantitative","axis":{"orient":"top","offset":-238.3,"grid":true,"labels":false,"ticks":false,"domain":false,"title":null,"values":[0,2,4,6,8,10,12,14,16]}},"y":{"datum":107.3,"type":"quantitative","axis":null}}},
 {"data":{"values":[{}]},"mark":{"type":"text","text":"ψ","font":"Liberation Sans","fontSize":5,"fontWeight":"bold","align":"left","baseline":"middle","dx":0.3,"dy":2,"color":"#000000"},
  "encoding":{"x":{"datum":8.17,"type":"quantitative","axis":null},"y":{"datum":107.3,"type":"quantitative","axis":null}}},
 {"data":{"values":[{}]},"mark":{"type":"text","text":"(d)","font":"Liberation Serif","fontSize":21,"align":"right","baseline":"alphabetic","color":"#000000"},
  "encoding":{"x":{"datum":6.87,"type":"quantitative","axis":null},"y":{"datum":-174.1,"type":"quantitative","axis":null}}},
 {"data":{"values":[{}]},"mark":{"type":"text","text":"u","font":"Liberation Serif","fontSize":21,"fontStyle":"italic","align":"left","baseline":"alphabetic","dx":7,"color":"#000000"},
  "encoding":{"x":{"datum":6.87,"type":"quantitative","axis":null},"y":{"datum":-174.1,"type":"quantitative","axis":null}}},
 {"data":{"values":[{}]},"mark":{"type":"text","text":"ψ","font":"Liberation Serif","fontSize":15,"fontStyle":"italic","align":"left","baseline":"alphabetic","dx":18,"dy":4,"color":"#000000"},
  "encoding":{"x":{"datum":6.87,"type":"quantitative","axis":null},"y":{"datum":-174.1,"type":"quantitative","axis":null}}},
 {"data":{"values":[{}]},"mark":{"type":"text","text":".","font":"Liberation Serif","fontSize":21,"align":"left","baseline":"alphabetic","dx":30,"color":"#000000"},
  "encoding":{"x":{"datum":6.87,"type":"quantitative","axis":null},"y":{"datum":-174.1,"type":"quantitative","axis":null}}}
],
"resolve":{"axis":{"x":"independent","y":"independent"}}},

{"data":{"values":[
 {"line":1,"text":"Fig. 24: Control command references (first example tra-"},
 {"line":2,"text":"jectory).\u00a0\u00a0The\u00a0\u00a0planned\u00a0\u00a0control\u00a0\u00a0command\u00a0\u00a0reference\u00a0\u00a0is"},
 {"line":3,"text":"represented with a dotted blue line. The executed con-"},
 {"line":4,"text":"trol command reference by the controller using the full"},
 {"line":5,"text":"reference is represented with a solid red line. The ex-"}
 ]},
 "mark":{"type":"text","font":"Liberation Serif","fontSize":28,"align":"left","baseline":"alphabetic","color":"#000000"},
 "encoding":{
  "x":{"datum":0,"type":"quantitative","scale":{"domain":[0,1],"range":[572,1172]},"axis":null},
  "y":{"field":"line","type":"quantitative","scale":{"domain":[1,5],"range":[495,627]},"axis":null},
  "text":{"field":"text"}
 }}
]
}
